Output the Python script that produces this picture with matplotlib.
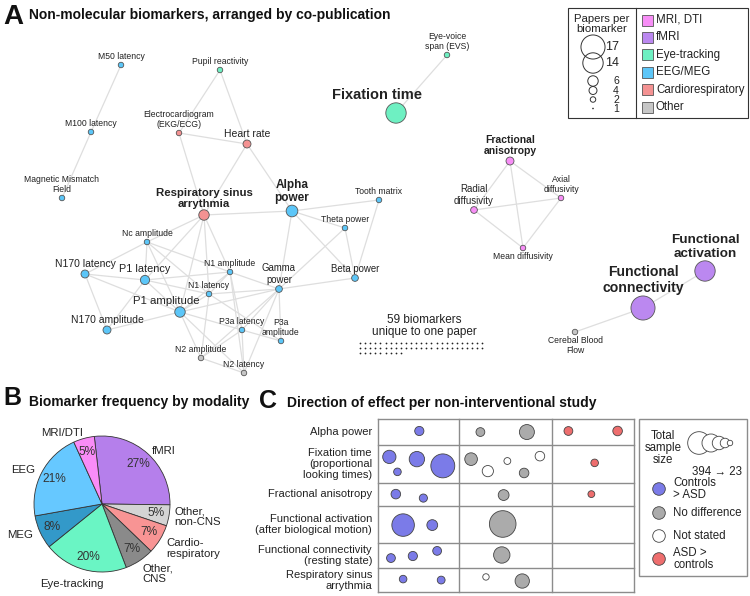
import numpy as np
import matplotlib.pyplot as plt
from matplotlib.patches import Circle, Rectangle

plt.rcParams['font.family'] = ['Liberation Sans', 'DejaVu Sans']
TXT = '#222222'

# ---------------- panel A data: co-publication network ----------------
node_labels = ["M50 latency", "M100 latency", "Magnetic Mismatch\nField", "Pupil reactivity",
               "Electrocardiogram\n(EKG/ECG)", "Heart rate", "Respiratory sinus\narrythmia", "Alpha\npower",
               "Tooth matrix", "Theta power", "Nc amplitude", "N170 latency", "P1 latency",
               "N1 amplitude", "Gamma\npower", "Beta power", "N1 latency", "P1 amplitude",
               "N170 amplitude", "P3a latency", "P3a\namplitude", "N2 amplitude", "N2 latency",
               "Eye-voice\nspan (EVS)", "Fixation time", "Fractional\nanisotropy", "Radial\ndiffusivity",
               "Axial\ndiffusivity", "Mean diffusivity", "Functional\nactivation", "Functional\nconnectivity",
               "Cerebal Blood\nFlow"]
# layout position of every node (force layout, in canvas pixels)
node_x = [121, 91, 62, 220, 179, 247, 204, 292, 379, 345, 147, 85, 145, 230, 279, 355, 209, 180,
          107, 242, 281, 201, 244, 447, 396, 510, 474, 561, 523, 705, 643, 575]
node_y = [65, 132, 198, 70, 133, 144, 215, 211, 200, 228, 242, 274, 280, 272, 289, 278, 294, 312,
          330, 330, 341, 358, 373, 55, 113, 161, 210, 198, 248, 271, 308, 332]
node_papers = [2, 2, 2, 2, 2, 4, 6, 7, 2, 2, 2, 4, 5, 2, 3, 3, 2, 6,
               4, 2, 2, 2, 2, 2, 14, 4, 3, 2, 2, 14, 17, 2]
node_mod = ["eeg", "eeg", "eeg", "eye", "cardio", "cardio", "cardio", "eeg", "eeg", "eeg", "eeg", "eeg",
            "eeg", "eeg", "eeg", "eeg", "eeg", "eeg", "eeg", "eeg", "eeg", "other", "other",
            "eye", "eye", "mri", "mri", "mri", "mri", "fmri", "fmri", "other"]
label_below = ["Mean diffusivity", "Cerebal Blood\nFlow"]
label_dx = {"Fixation time": -19, "P1 amplitude": -14}

edges = [(0, 1), (1, 2), (3, 4), (3, 5), (4, 5), (4, 6), (5, 6), (5, 7), (6, 7), (7, 8), (7, 9),
         (7, 15), (8, 15), (9, 15), (9, 14), (7, 14), (14, 15),
         (6, 10), (6, 12), (6, 17), (6, 16), (6, 13),
         (10, 11), (10, 12), (10, 17), (10, 13), (10, 16), (11, 12), (11, 18), (11, 17),
         (12, 17), (12, 13), (12, 16), (12, 18), (17, 16), (17, 13), (17, 18), (17, 19),
         (17, 21), (17, 22), (17, 14), (13, 14), (13, 16), (13, 19), (13, 22), (16, 14),
         (16, 21), (16, 20), (14, 19), (14, 20), (14, 21), (14, 22), (19, 20), (19, 22),
         (19, 21), (21, 22),
         (23, 24), (25, 26), (25, 27), (25, 28), (26, 27), (26, 28), (27, 28), (29, 30), (30, 31)]
n_unique = 59

mod_keys = ["mri", "fmri", "eye", "eeg", "cardio", "other"]
mod_names = ["MRI, DTI", "fMRI", "Eye-tracking", "EEG/MEG", "Cardiorespiratory", "Other"]
mod_colors = {"mri": "#f78ef6", "fmri": "#bb88f0", "eye": "#6ef0c2", "eeg": "#5cc6f8",
              "cardio": "#f49292", "other": "#c6c6c6"}
size_legend = [17, 14, 6, 4, 2, 1]

# ---------------- panel B data ----------------
pie_labels = ["fMRI", "Other,\nnon-CNS", "Cardio-\nrespiratory", "Other,\nCNS", "Eye-tracking",
              "MEG", "EEG", "MRI/DTI"]
pie_share = [27, 5, 7, 7, 20, 8, 21, 5]
pie_colors = ["#b57feb", "#d4d4d4", "#f89494", "#8a8a8a", "#6af5c4", "#3399c9", "#66c8ff", "#f98cf7"]

# ---------------- panel C data ----------------
c_rows = ["Alpha power", "Fixation time\n(proportional\nlooking times)", "Fractional anisotropy",
          "Functional activation\n(after biological motion)", "Functional connectivity\n(resting state)",
          "Respiratory sinus\narrythmia"]
highlighted = ["Alpha\npower", "Fixation time", "Fractional\nanisotropy", "Functional\nactivation",
               "Functional\nconnectivity", "Respiratory sinus\narrythmia"]
# one entry per study: row, direction, total sample size
st_row = [0, 0, 0, 0, 0,
          1, 1, 1, 1, 1, 1, 1, 1, 1, 1,
          2, 2, 2, 2,
          3, 3, 3,
          4, 4, 4, 4,
          5, 5, 5, 5]
st_dir = ["ctrl", "none", "none", "asd", "asd",
          "ctrl", "ctrl", "ctrl", "ctrl", "none", "ns", "ns", "none", "ns", "asd",
          "ctrl", "ctrl", "none", "asd",
          "ctrl", "ctrl", "none",
          "ctrl", "ctrl", "ctrl", "none",
          "ctrl", "ctrl", "ns", "none"]
st_n = [47, 43, 125, 43, 51,
        98, 32, 131, 319, 89, 70, 26, 51, 51, 32,
        51, 37, 65, 26,
        282, 65, 394,
        43, 47, 43, 149,
        32, 34, 23, 114]
# placement inside the cell (fraction of cell width / height)
st_fx = [0.51, 0.23, 0.73, 0.20, 0.80,
         0.14, 0.24, 0.48, 0.80, 0.13, 0.31, 0.52, 0.70, 0.87, 0.52,
         0.22, 0.56, 0.48, 0.48,
         0.31, 0.67, 0.47,
         0.16, 0.43, 0.73, 0.46,
         0.31, 0.78, 0.29, 0.68]
st_fy = [0.45, 0.49, 0.49, 0.45, 0.45,
         0.31, 0.71, 0.37, 0.55, 0.37, 0.69, 0.42, 0.74, 0.29, 0.47,
         0.49, 0.66, 0.53, 0.49,
         0.52, 0.52, 0.49,
         0.60, 0.52, 0.32, 0.48,
         0.45, 0.49, 0.36, 0.53]
dir_keys = ["ctrl", "none", "ns", "asd"]
dir_names = ["Controls\n> ASD", "No difference", "Not stated", "ASD >\ncontrols"]
dir_colors = {"ctrl": "#7b7be8", "none": "#ababab", "ns": "#ffffff", "asd": "#ee6e6e"}
dir_col = {"ctrl": 0, "none": 1, "ns": 1, "asd": 2}
n_legend = [394, 250, 140, 70, 23]


def node_r(n):
    return 0.8 if n == 1 else 0.62 * n + 1.5


def study_r(n):
    return 13.3 * np.sqrt(n / 394)


fig = plt.figure(figsize=(7.5, 5.96), dpi=100)
ax = fig.add_axes([0, 0, 1, 1])
ax.set_xlim(0, 750)
ax.set_ylim(596, 0)
ax.axis('off')

# ---- A ----
ax.text(3, 24, "A", fontsize=20, fontweight='bold', color='#111')
ax.text(29, 18.5, "Non-molecular biomarkers, arranged by co-publication", fontsize=10,
        fontweight='bold', color='#111')

for a, b in edges:
    ax.plot([node_x[a], node_x[b]], [node_y[a], node_y[b]], color='#dedede', lw=0.9, zorder=1)

for lab, x, y, n, m in zip(node_labels, node_x, node_y, node_papers, node_mod):
    r = node_r(n)
    ax.add_patch(Circle((x, y), r, fc=mod_colors[m], ec='#555555', lw=0.6, zorder=3))
    fs = 6.2 + 1.25 * np.log2(n / 2)
    bold = 'bold' if lab in highlighted else 'normal'
    if lab == "Fixation time":
        fs += 0.8
    if lab in label_below:
        ty, va = y + r + 1, 'top'
    else:
        ty, va = y - r - 1, 'bottom'
    ax.text(x + label_dx.get(lab, 0), ty, lab, fontsize=fs, fontweight=bold, ha='center', va=va,
            multialignment='center', linespacing=1.15, color=TXT, zorder=4)

# one-paper biomarkers as dots
per_row = 25
k = np.arange(n_unique)
ax.scatter(360 + (k % per_row) * 5.1, 343 + (k // per_row) * 5, s=1.6, c='#222222', lw=0)
ax.text(424, 338, "59 biomarkers\nunique to one paper", fontsize=8.5, ha='center', va='bottom',
        linespacing=1.05, color=TXT)

# legend A
ax.add_patch(Rectangle((568, 8), 180, 110, fill=False, ec='#333333', lw=0.8))
ax.plot([636, 636], [8, 118], color='#333333', lw=0.8)
ax.text(602, 24.5, "Papers per\nbiomarker", fontsize=8.2, ha='center', va='center', linespacing=1.0,
        color=TXT)
for n, ly in zip(size_legend, [47, 63, 81, 90.5, 99.5, 108.5]):
    if n == 1:
        ax.add_patch(Circle((593, ly), node_r(n), fc='#222222', ec='none'))
    else:
        ax.add_patch(Circle((593, ly), node_r(n), fc='none', ec='#333333', lw=0.7))
    ax.text(619, ly + 0.5, str(n), fontsize=9 if n > 9 else 7.6, ha='right', va='center', color=TXT)
for i, (mk, nm) in enumerate(zip(mod_keys, mod_names)):
    ly = 20 + i * 17.4
    ax.add_patch(Rectangle((642, ly - 5.5), 11, 11, fc=mod_colors[mk], ec='#555555', lw=0.6))
    ax.text(656, ly, nm, fontsize=8.3, va='center', color=TXT)

# ---- B ----
ax.text(3, 405, "B", fontsize=18, fontweight='bold', color='#111')
ax.text(29, 406, "Biomarker frequency by modality", fontsize=10, fontweight='bold', color='#111')

ax_b = fig.add_axes([(102 - 68) / 750, (596 - 504 - 68) / 596, 136 / 750, 136 / 596])
ax_b.pie(pie_share, colors=pie_colors, startangle=96.5, counterclock=False,
         autopct=lambda p: f"{p:.0f}%", pctdistance=0.8,
         wedgeprops=dict(edgecolor='#333333', linewidth=0.6),
         textprops=dict(fontsize=8.6, color='#333333'))
ax_b.set_xlim(-1, 1)
ax_b.set_ylim(-1, 1)
pie_label_pos = [(0.735, 0.78, 'left'), (1.06, -0.19, 'left'), (0.94, -0.65, 'left'),
                 (0.60, -1.03, 'left'), (-0.44, -1.18, 'center'), (-1.01, -0.46, 'right'),
                 (-0.985, 0.50, 'right'), (-0.28, 1.04, 'right')]
for lab, (px, py, ha) in zip(pie_labels, pie_label_pos):
    ax_b.text(px, py, lab, fontsize=8.2, ha=ha, va='center', linespacing=1.1, color=TXT)

# ---- C ----
ax.text(259, 408, "C", fontsize=18, fontweight='bold', color='#111')
ax.text(287, 407, "Direction of effect per non-interventional study", fontsize=10, fontweight='bold',
        color='#111')

col_edges = [378, 459, 552, 634]
row_edges = [419.3, 445.3, 482.7, 506, 542.7, 568.3, 592.3]
for xe in col_edges:
    ax.plot([xe, xe], [row_edges[0], row_edges[-1]], color='#8c8c8c', lw=1.0)
for ye in row_edges:
    ax.plot([col_edges[0], col_edges[-1]], [ye, ye], color='#8c8c8c', lw=1.0)
for i, lab in enumerate(c_rows):
    ax.text(372, (row_edges[i] + row_edges[i + 1]) / 2, lab, fontsize=8, ha='right', va='center',
            multialignment='right', linespacing=1.12, color=TXT)
for r_i, d, n, fx, fy in zip(st_row, st_dir, st_n, st_fx, st_fy):
    c = dir_col[d]
    cx = col_edges[c] + fx * (col_edges[c + 1] - col_edges[c])
    cy = row_edges[r_i] + fy * (row_edges[r_i + 1] - row_edges[r_i])
    ax.add_patch(Circle((cx, cy), study_r(n), fc=dir_colors[d], ec='#444444', lw=0.6, zorder=3))

# legend C
ax.add_patch(Rectangle((639, 419), 108, 157, fill=False, ec='#8c8c8c', lw=1.0))
ax.text(663, 448, "Total\nsample\nsize", fontsize=8.3, ha='center', va='center', linespacing=1.05,
        color=TXT)
for n, lx in zip(n_legend, [699, 711, 719, 725, 730]):
    ax.add_patch(Circle((lx, 443), study_r(n) * 0.85, fc='white', ec='#444444', lw=0.6))
ax.text(717, 472, "394 \u2192 23", fontsize=8.3, ha='center', va='center', color=TXT)
for dk, nm, ly in zip(dir_keys, dir_names, [489, 513, 536, 559]):
    ax.add_patch(Circle((659, ly), 6.3, fc=dir_colors[dk], ec='#444444', lw=0.6))
    ax.text(673, ly, nm, fontsize=8.3, va='center', linespacing=1.1, color=TXT)

fig.savefig("out.png", dpi=100)
